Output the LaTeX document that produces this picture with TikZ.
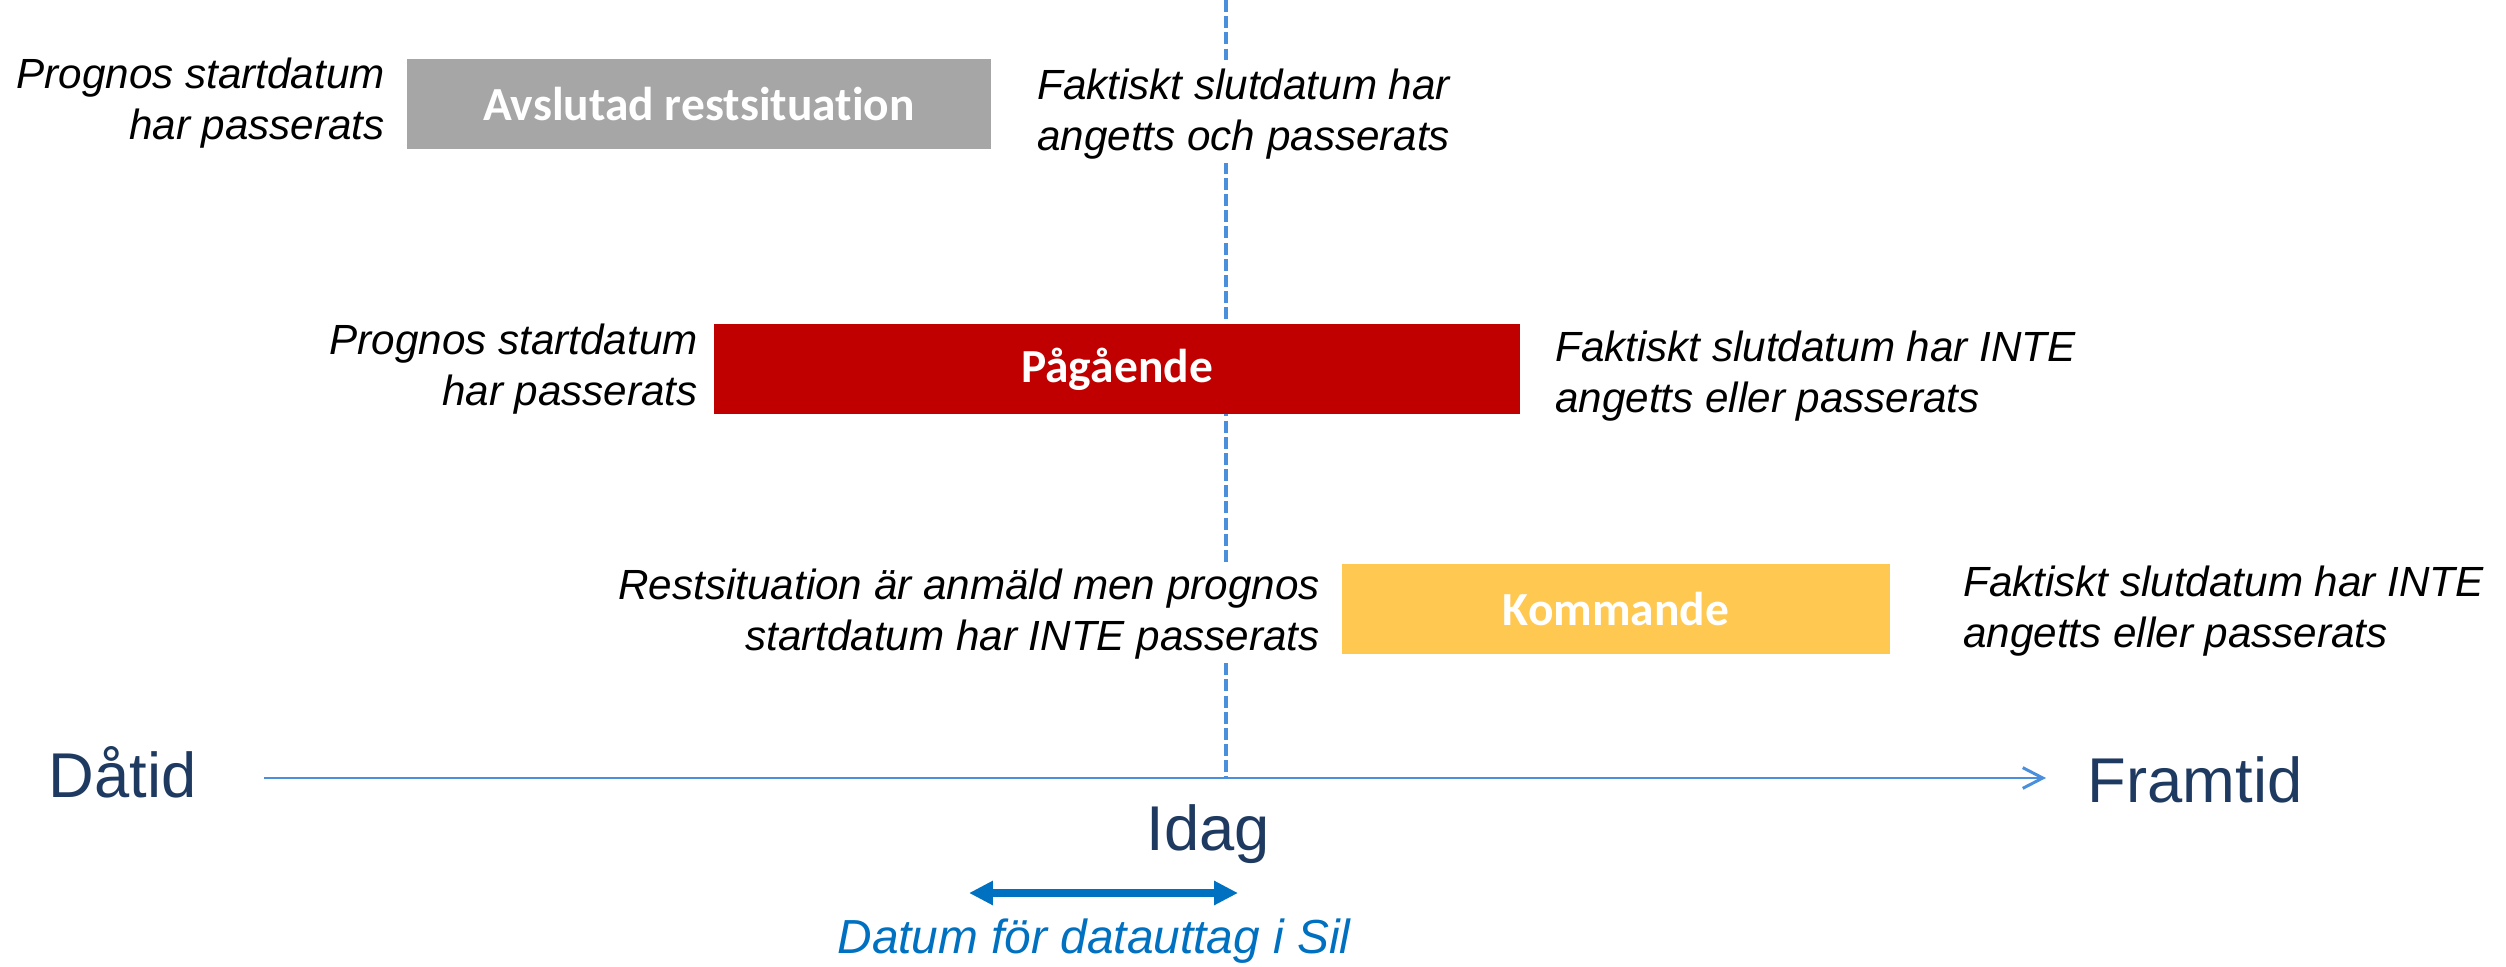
\documentclass[tikz,border=0pt]{standalone}
\usepackage{fontspec}
\setmainfont{Liberation Sans}
\newfontfamily\boxfont[Ligatures=NoCommon]{Carlito}
\usetikzlibrary{arrows.meta}
\definecolor{greybox}{HTML}{A6A6A6}
\definecolor{redbox}{HTML}{C00000}
\definecolor{yellowbox}{HTML}{FFC851}
\definecolor{navy}{HTML}{1F3A60}
\definecolor{linkblue}{HTML}{0070C0}
\definecolor{lineblue}{HTML}{4A8FDB}

\begin{document}
\begin{tikzpicture}
    [x=0.01cm,y=-0.01cm,
     state/.style={rectangle,inner sep=0pt,outer sep=0pt,minimum height=0.9cm,
       text=white,font=\boxfont\bfseries\fontsize{13.5}{15}\selectfont},
     note/.style={inner sep=1pt,fill=white,font=\itshape\fontsize{12}{14.7}\selectfont},
     era/.style={inner sep=0pt,text=navy,font=\fontsize{18}{20}\selectfont}]
    \useasboundingbox (0,0) rectangle (2506,967);

    \coordinate (top) at (1226,0);
    \coordinate (now) at (1226,778);
    \coordinate (past) at (264,778);
    \coordinate (future) at (2046,778);
    \coordinate (win1) at (969,893);
    \coordinate (win2) at (1238,893);

    \draw [lineblue, line width=1.1pt, dash pattern=on 3.4pt off 1.2pt] (top) -- (now);
    \draw [lineblue, line width=0.85pt, -{Straight Barb[length=5.7pt,width=5.9pt]}] (past) -- (future);

    \node[state,fill=greybox,minimum width=5.84cm] (done) at (699,104) {\raisebox{-1pt}{Avslutad restsituation}};
    \node[state,fill=redbox,minimum width=8.06cm] (ongoing) at (1117,369) {\raisebox{-1pt}{Pågående}};
    \node[state,fill=yellowbox,minimum width=5.48cm] (coming) at (1616,609) {\raisebox{-1pt}{Kommande}};

    \node[note,align=right,anchor=east] (done-l) at (389,103) {Prognos startdatum\\har passerats};
    \node[note,align=left,anchor=west] (done-r) at (1033,114) {Faktiskt slutdatum har\\angetts och passerats};
    \node[note,align=right,anchor=east] (ongoing-l) at (702,369) {Prognos startdatum\\har passerats};
    \node[note,align=left,anchor=west] (ongoing-r) at (1551,376) {Faktiskt slutdatum har INTE\\angetts eller passerats};
    \node[note,align=right,anchor=east] (coming-l) at (1324,614) {Restsituation är anmäld men prognos\\startdatum har INTE passerats};
    \node[note,align=left,anchor=west] (coming-r) at (1959,611) {Faktiskt slutdatum har INTE\\angetts eller passerats};

    \node[era,anchor=base west] (then) at (48,797) {Dåtid};
    \node[era,anchor=base west] (later) at (2087,802) {Framtid};
    \node[era,anchor=base] (today) at (1208,850) {Idag};

    \draw [linkblue, line width=2pt, {Triangle[length=6.8pt,width=6.5pt]}-{Triangle[length=6.8pt,width=6.5pt]}] (win1) -- (win2);
    \node[inner sep=0pt,anchor=base,text=linkblue,font=\itshape\fontsize{13.6}{16}\selectfont] (window) at (1094,953) {Datum för datauttag i Sil};
  \end{tikzpicture}
\end{document}
